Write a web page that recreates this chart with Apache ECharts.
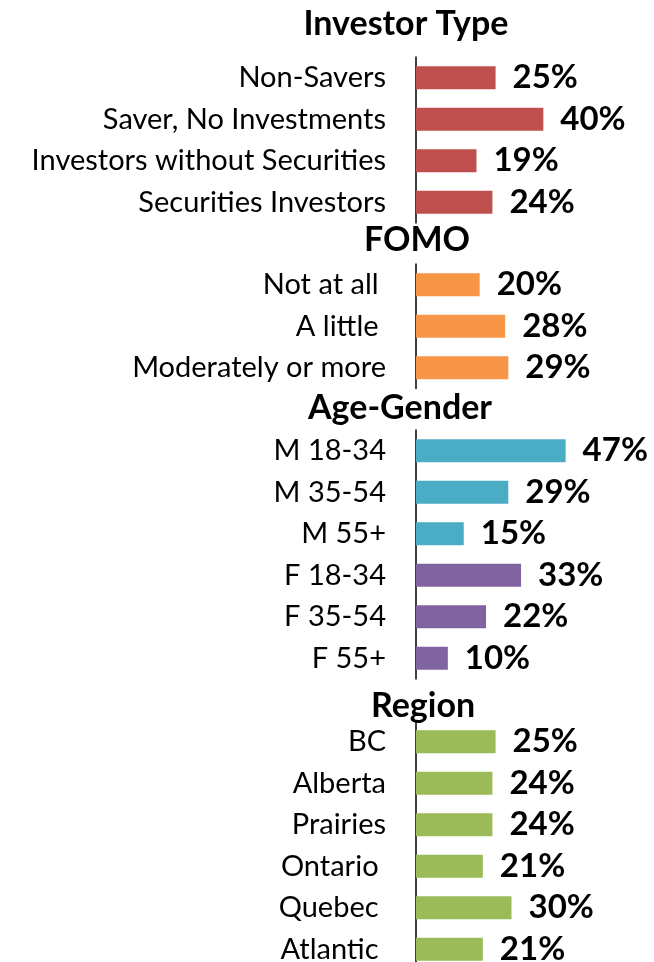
<!DOCTYPE html>
<html>
<head>
<meta charset="utf-8">
<script src="https://cdn.jsdelivr.net/npm/echarts@6/dist/echarts.min.js"></script>
<style>
  html, body { margin: 0; padding: 0; background: #fff; }
  #chart { width: 654px; height: 962px; }
</style>
</head>
<body>
<div id="chart"></div>
<script>
// section headers
const sectionTitles = ['Investor Type', 'FOMO', 'Age-Gender', 'Region']

// categories per section (trailing spaces as in the original labels)
const investorCats = ['Non-Savers', 'Saver, No Investments', 'Investors without Securities', 'Securities Investors']
const fomoCats = ['Not at all ', 'A little ', 'Moderately or more']
const ageCats = ['M 18-34', 'M 35-54', 'M 55+', 'F 18-34', 'F 35-54', 'F 55+']
const regionCats = ['BC', 'Alberta', 'Prairies', 'Ontario ', 'Quebec ', 'Atlantic ']

// values (%)
const investorVals = [25, 40, 19, 24]
const fomoVals = [20, 28, 29]
const ageVals = [47, 29, 15, 33, 22, 10]
const regionVals = [25, 24, 24, 21, 30, 21]

const FONT = 'Lato'
const chart = echarts.init(document.getElementById('chart'))

const sections = [
  { cats: investorCats, vals: investorVals, top: 57, color: '#C0504D' },
  { cats: fomoCats, vals: fomoVals, top: 264, color: '#F79646' },
  { cats: ageCats, vals: ageVals, top: 430, color: (p) => p.name.startsWith('M') ? '#4BACC6' : '#8064A2' },
  { cats: regionCats, vals: regionVals, top: 721, color: '#9BBB59' }
]
const rowH = 41.5

const headerPos = [[406, 24], [417, 240], [400, 408], [423, 706]]

chart.setOption({
  animation: false,
  grid: sections.map(s => ({
    left: 416, width: 191, top: s.top, height: s.cats.length * rowH,
    outerBoundsMode: 'none', containLabel: false
  })),
  xAxis: sections.map((s, i) => ({
    type: 'value', gridIndex: i, min: 0, max: 60, show: false
  })),
  yAxis: sections.map((s, i) => ({
    type: 'category', gridIndex: i, inverse: true, data: s.cats,
    axisLine: { show: true, lineStyle: { color: '#000', width: 1.5 } },
    axisTick: { show: false },
    splitLine: { show: false },
    axisLabel: { color: '#000', fontFamily: FONT, fontSize: 29, margin: 30 }
  })),
  series: sections.map((s, i) => ({
    type: 'bar', xAxisIndex: i, yAxisIndex: i,
    data: s.vals,
    barWidth: 23,
    itemStyle: { color: s.color },
    label: {
      show: true, position: 'right', distance: 17,
      formatter: '{c}%', color: '#000',
      fontFamily: FONT, fontWeight: 'bold', fontSize: 33
    }
  })),
  graphic: sectionTitles.map((t, i) => ({
    type: 'text', x: headerPos[i][0], y: headerPos[i][1],
    style: {
      text: t, fill: '#000', fontFamily: FONT, fontWeight: 'bold', fontSize: 34,
      align: 'center', verticalAlign: 'middle'
    }
  }))
})
</script>
</body>
</html>
